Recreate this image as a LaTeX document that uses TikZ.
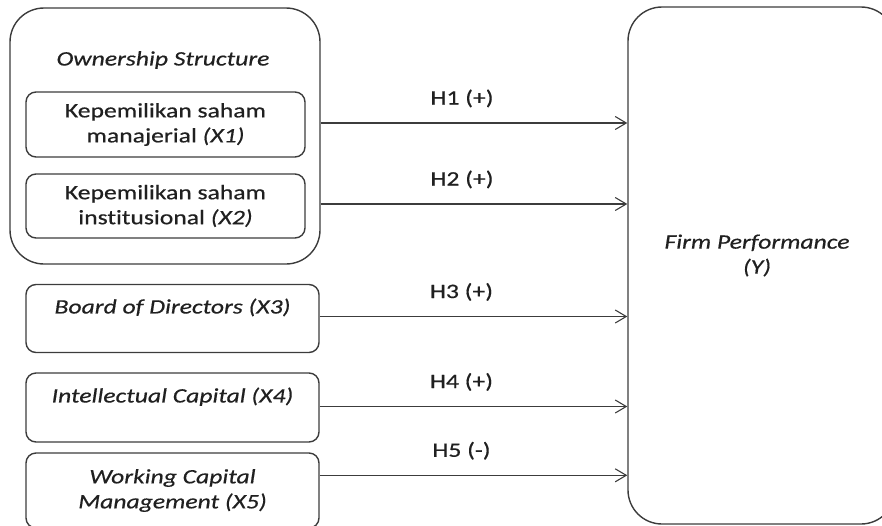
\documentclass[tikz,border=0pt]{standalone}
\usepackage{fontspec}
\setmainfont{Carlito}[FakeStretch=1.25, FakeBold=0.5, Ligatures=NoCommon]
\usetikzlibrary{arrows.meta, positioning, calc}

\definecolor{linegray}{HTML}{3C3C3C}
\definecolor{textgray}{HTML}{202020}
\newcommand{\diagfont}{\fontsize{20.5}{25}\selectfont}

\begin{document}
\begin{tikzpicture}[x=1pt, y=-1pt,
        group/.style={rectangle, draw=linegray, line width=1.4pt, rounded corners=34pt, inner sep=0pt},
        varbox/.style={rectangle, draw=linegray, line width=1.4pt, rounded corners=10pt, align=center, font=\diagfont, text=textgray, inner sep=0pt},
        title/.style={font=\diagfont\itshape, text=textgray, align=center},
        flow/.style={-{Straight Barb[length=11pt, width=13pt, line width=1.1pt]}, draw=linegray, line width=1.3pt},
        hyp/.style={midway, above=15pt, xshift=-12pt, inner sep=0pt, font=\diagfont, text=textgray}
    ]
        \clip (0,0) rectangle (882,525);

        % OWNERSHIP STRUCTURE
        \node[group, minimum width=310pt, minimum height=256pt] (own) at (165,136) {};
        \node[title] (own_title) at (163,60) {Ownership Structure};
        \node[varbox, minimum width=279pt, minimum height=65pt] (x1) at (165.5,124.5) {Kepemilikan saham\\manajerial \textit{(X1)}};
        \node[varbox, minimum width=279pt, minimum height=64pt] (x2) at (165.5,206) {Kepemilikan saham\\institusional \textit{(X2)}};

        % OTHER VARIABLES
        \node[varbox, minimum width=293pt, minimum height=68pt] (x3) at (172.5,318.5) {\textit{Board of Directors (X3)}\\\mbox{}};
        \node[varbox, minimum width=293pt, minimum height=69pt] (x4) at (172.5,407.5) {\textit{Intellectual Capital (X4)}\\\mbox{}};
        \node[varbox, minimum width=293pt, minimum height=75pt] (x5) at (172.5,490.5) {\textit{Working Capital}\\\textit{Management (X5)}};

        % FIRM PERFORMANCE
        \node[group, minimum width=267pt, minimum height=517pt] (firm) at (761.5,265.5) {};
        \node[title] (firm_title) at (757,255.5) {Firm Performance\\(Y)};

        % HYPOTHESES
        \draw[flow] ($(x1 -| own.east)+(0,-1.5)$) -- ($(x1 -| firm.west)+(0,-1.5)$) node[hyp] {H1 (+)};
        \draw[flow] ($(x2 -| own.east)+(0,-2)$) -- ($(x2 -| firm.west)+(0,-2)$) node[hyp] {H2 (+)};
        \draw[flow] ($(x3.east)+(0,-2)$) -- ($(x3.east -| firm.west)+(0,-2)$) node[hyp] {H3 (+)};
        \draw[flow] ($(x4.east)+(0,-1)$) -- ($(x4.east -| firm.west)+(0,-1)$) node[hyp] {H4 (+)};
        \draw[flow] ($(x5.north east)+(0,23)$) -- ($(x5.north east -| firm.west)+(0,23)$) node[hyp] {H5 (-)};

    \end{tikzpicture}
\end{document}
